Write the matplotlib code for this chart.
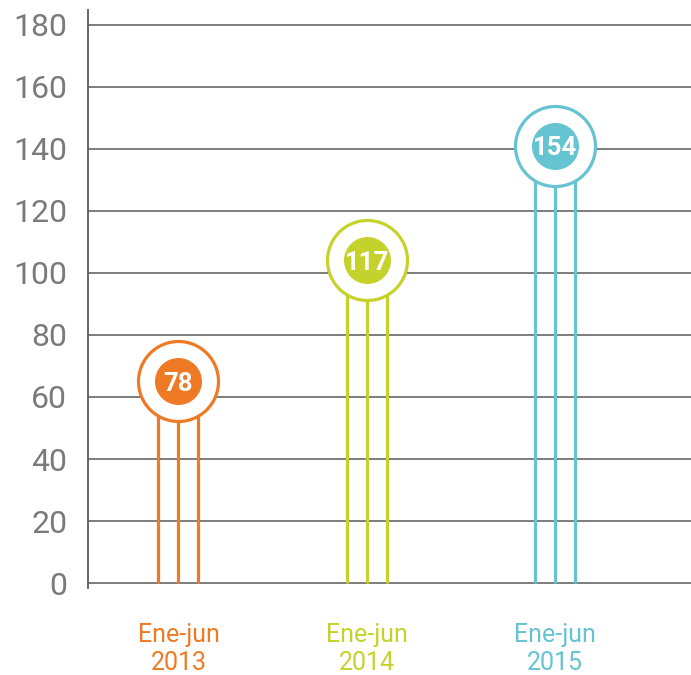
import matplotlib
matplotlib.use("Agg")
import matplotlib.pyplot as plt
from matplotlib.transforms import ScaledTranslation

# Data
periods = ["Ene-jun\n2013", "Ene-jun\n2014", "Ene-jun\n2015"]
values = [78, 117, 154]
colors = ["#EF7A25", "#C6D22C", "#66C4D2"]
y_ticks = [0, 20, 40, 60, 80, 100, 120, 140, 160, 180]

plt.rcParams["font.family"] = ["Roboto", "Liberation Sans", "DejaVu Sans"]

fig = plt.figure(figsize=(6.91, 6.75), dpi=100)
ax = fig.add_axes([88 / 691, 87 / 675, 1 - 88 / 691, 578 / 675])

ax.set_ylim(-1.6, 184.8)
ax.set_xlim(-0.48, 2.72)

# Gridlines and axis styling
for t in y_ticks:
    ax.axhline(t, color="#5a5a5a", lw=1.1, zorder=1)
ax.set_yticks(y_ticks)
ax.set_yticklabels([str(t) for t in y_ticks], fontsize=23, color="#7a7a7a",
                   fontweight="normal")
ax.tick_params(axis="y", length=0, pad=15)
for side in ("top", "right", "bottom"):
    ax.spines[side].set_visible(False)
ax.spines["left"].set_color("#5a5a5a")
ax.spines["left"].set_linewidth(1.3)

xs = list(range(len(values)))
ax.set_xticks(xs)
ax.set_xticklabels(periods, fontsize=18, linespacing=1.2, fontweight="normal")
ax.tick_params(axis="x", length=0, pad=25)
for lbl, c in zip(ax.get_xticklabels(), colors):
    lbl.set_color(c)

# Ring geometry in pixels (ring top sits on the value)
ring_r_px = 40
inner_r_px = 23.5
shift = ScaledTranslation(0, -ring_r_px / 100, fig.dpi_scale_trans)
offset = 0.106
px_per_unit = ax.transData.transform((0, 1))[1] - ax.transData.transform((0, 0))[1]
ring_r_data = ring_r_px / px_per_unit

for x, v, c in zip(xs, values, colors):
    for dx in (-offset, 0, offset):
        top = v if dx == 0 else v - ring_r_data
        ax.plot([x + dx, x + dx], [0, top], color=c, lw=2.3, zorder=2,
                solid_capstyle="butt")
    tr = ax.transData + shift
    ax.plot([x], [v], marker="o", markersize=2 * ring_r_px * 0.72,
            markerfacecolor="white", markeredgecolor=c, markeredgewidth=2.3,
            transform=tr, zorder=3)
    ax.plot([x], [v], marker="o", markersize=2 * inner_r_px * 0.72,
            markerfacecolor=c, markeredgewidth=0, transform=tr, zorder=4)
    ax.text(x, v, str(v), transform=tr, ha="center", va="center_baseline",
            fontsize=18.5, fontweight="bold", color="white", zorder=5)

fig.savefig("out.png", dpi=100)
